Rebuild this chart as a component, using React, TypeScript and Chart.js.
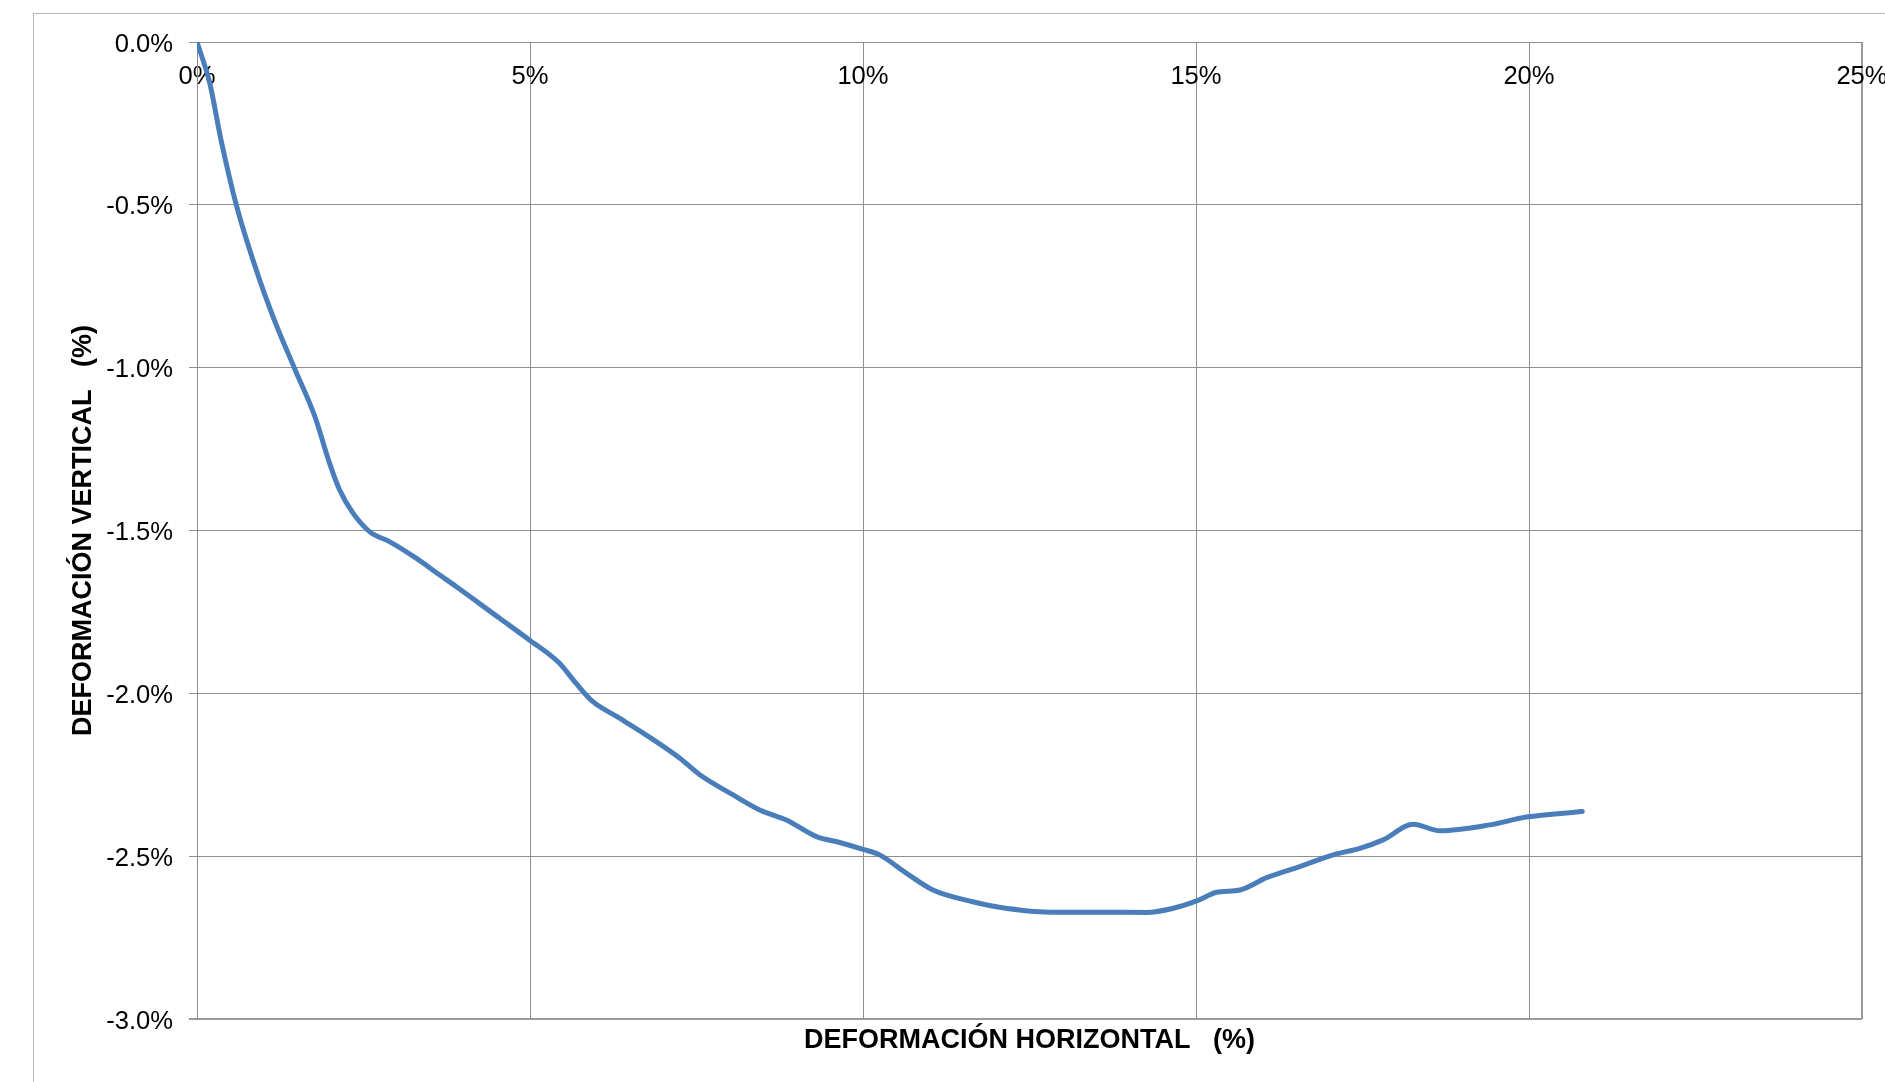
import React, { useEffect, useRef } from 'react';
import { Chart, registerables } from 'chart.js';

Chart.register(...registerables);

// Horizontal deformation (%)
const xValues = [
  0, 0.19, 0.36, 0.59, 0.89, 1.16, 1.46, 1.77, 1.99, 2.14, 2.34, 2.6, 2.89, 3.29, 3.64, 3.89,
  4.54, 4.99, 5.44, 5.69, 5.94, 6.3, 6.7, 7.25, 7.55, 8.05, 8.45, 8.85, 9.3, 9.65, 10.0, 10.25,
  10.65, 11.05, 11.65, 12.05, 12.8, 13.56, 14.26, 14.66, 15.04, 15.31, 15.66, 16.06, 16.56,
  17.06, 17.46, 17.81, 18.26, 18.66, 19.41, 19.96, 20.8,
];
// Vertical deformation (%)
const yValues = [
  0, -0.125, -0.3, -0.5, -0.7, -0.853, -1.0, -1.15, -1.293, -1.375, -1.446, -1.505, -1.534, -1.585,
  -1.636, -1.672, -1.769, -1.836, -1.907, -1.969, -2.025, -2.071, -2.122, -2.199, -2.25, -2.312,
  -2.358, -2.389, -2.44, -2.458, -2.479, -2.496, -2.552, -2.604, -2.64, -2.657, -2.672, -2.672,
  -2.673, -2.66, -2.635, -2.611, -2.604, -2.566, -2.532, -2.496, -2.476, -2.45, -2.402, -2.422,
  -2.404, -2.38, -2.363,
];

const xTickValues = [0, 5, 10, 15, 20, 25];
const yTickValues = [0, -0.5, -1.0, -1.5, -2.0, -2.5, -3.0];

const xTitle = 'DEFORMACIÓN HORIZONTAL   (%)';
const yTitle = 'DEFORMACIÓN VERTICAL   (%)';

const FONT = '"Liberation Sans", Arial, sans-serif';
const GRID = '#8e8e8e';
const EDGE = '#9a9a9a';

export default function App() {
  const ref = useRef<HTMLCanvasElement | null>(null);

  useEffect(() => {
    if (!ref.current) return;
    const points = xValues.map((x, i) => ({ x, y: yValues[i] }));

    const xTitlePlugin = {
      id: 'xTitlePlugin',
      afterDraw(chart: any) {
        const ctx = chart.ctx;
        const area = chart.chartArea;
        ctx.save();
        ctx.font = `bold 27px ${FONT}`;
        ctx.fillStyle = '#000';
        ctx.textAlign = 'center';
        ctx.textBaseline = 'alphabetic';
        const cx = (area.left + area.right) / 2;
        ctx.fillText(xTitle, cx, area.bottom + 29);
        ctx.restore();
      },
    };

    const chart = new Chart(ref.current, {
      type: 'line',
      data: {
        datasets: [
          {
            data: points,
            borderColor: '#4a7ebb',
            backgroundColor: '#4a7ebb',
            borderWidth: 5,
            pointRadius: 0,
            pointHoverRadius: 0,
            fill: false,
            cubicInterpolationMode: 'monotone',
            borderCapStyle: 'round',
            borderJoinStyle: 'round',
          },
        ],
      },
      options: {
        animation: false,
        responsive: false,
        maintainAspectRatio: false,
        layout: { padding: { left: 0, top: 0, right: 23, bottom: 63 } },
        plugins: {
          legend: { display: false },
          tooltip: { enabled: false },
          title: { display: false },
        },
        scales: {
          x: {
            type: 'linear',
            position: 'top',
            min: 0,
            max: 25,
            afterBuildTicks: (scale: any) => {
              scale.ticks = xTickValues.map((v) => ({ value: v }));
            },
            afterFit: (scale: any) => {
              scale.height = 42;
              scale.paddingLeft = 0;
              scale.paddingRight = 0;
            },
            grid: {
              color: (c: any) => (c.tick && c.tick.value === 25 ? EDGE : GRID),
              lineWidth: (c: any) => (c.tick && c.tick.value === 25 ? 2 : 1),
              drawTicks: false,
            },
            border: { display: true, color: GRID, width: 1 },
            ticks: {
              mirror: true,
              padding: 20,
              autoSkip: false,
              maxRotation: 0,
              color: '#000',
              font: { family: FONT, size: 25.6 },
              callback: (v: any) => `${v}%`,
            },
          },
          y: {
            type: 'linear',
            position: 'left',
            min: -3,
            max: 0,
            afterBuildTicks: (scale: any) => {
              scale.ticks = yTickValues.map((v) => ({ value: v }));
            },
            afterFit: (scale: any) => {
              scale.width = 197;
            },
            grid: {
              color: (c: any) => (c.tick && c.tick.value === -3 ? EDGE : GRID),
              lineWidth: (c: any) => (c.tick && c.tick.value === -3 ? 2 : 1),
              tickLength: 8,
              drawTicks: true,
            },
            border: { display: true, color: GRID, width: 1 },
            ticks: {
              padding: 16,
              labelOffset: 2.5,
              autoSkip: false,
              color: '#000',
              font: { family: FONT, size: 25.6 },
              callback: (v: any) => `${Number(v).toFixed(1)}%`,
            },
            title: {
              display: true,
              text: yTitle,
              color: '#000',
              font: { family: FONT, size: 27, weight: 'bold' },
              padding: { top: 67, bottom: 0 },
            },
          },
        },
      },
      plugins: [xTitlePlugin],
    } as any);

    return () => chart.destroy();
  }, []);

  return (
    <div
      style={{
        position: 'absolute',
        left: 0,
        top: 0,
        width: 1885,
        height: 1082,
        overflow: 'hidden',
        background: '#fff',
      }}
    >
      <div
        style={{
          position: 'absolute',
          left: 33,
          top: 13,
          width: 1900,
          height: 1100,
          borderLeft: '1px solid #b8b8b8',
          borderTop: '1px solid #b8b8b8',
        }}
      />
      <canvas
        ref={ref}
        width={1885}
        height={1082}
        style={{ position: 'absolute', left: 0, top: 0, display: 'block' }}
      />
    </div>
  );
}
